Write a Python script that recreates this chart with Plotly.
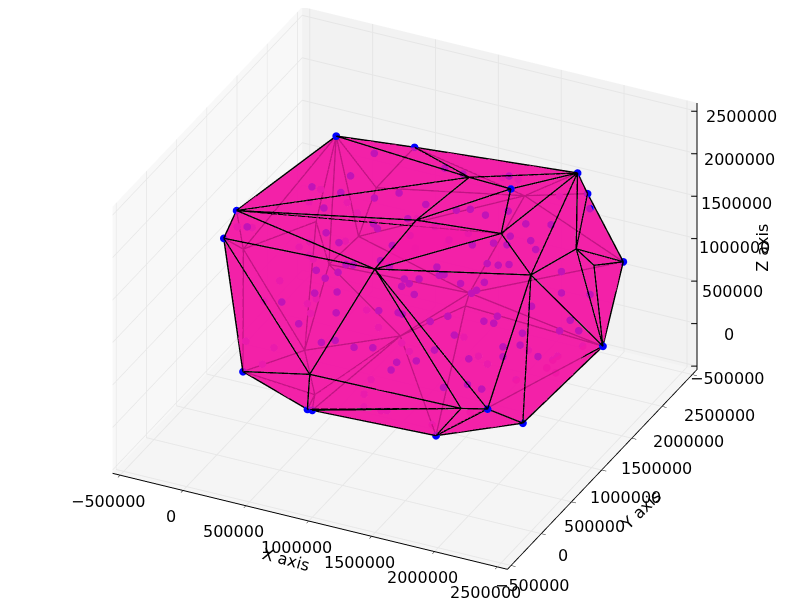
import math
import plotly.graph_objects as go

# hull vertices (x, y, z in thousands)
vertex_names = ['A','B','C','D','E','F','G','H','I','I2','J','K','L','M','N','O','P','Q','R','S','T','U','V','W','b1','b2','b3','b4','b5','b6','b7','b8','b9','b10','b11']
vertex_x = [342,908,1953,2048,2383,2405,1971,1461,587,624,90,-231,-190,1159,2130,1877,1783,1506,1324,2290,2397,765,1936,1789,52,-240,146,288,391,1398,189,411,691,1058,1053]
vertex_y = [1264,1382,1906,1874,1768,1385,963,587,277,281,245,596,722,203,766,801,1155,1044,545,1183,1254,-55,452,319,1536,938,1552,1747,1827,2187,1060,767,1600,1980,1924]
vertex_z = [2389,2372,2053,1868,1266,567,-179,-228,0,-1,289,1480,1727,1912,1770,2141,2367,2487,2291,1822,1614,724,357,411,1074,1093,592,826,1376,1375,-36,-260,-91,262,150]

front_triangles = ['A L Q','A Q B','B Q C','L Q R','L R O','L O M','L M K','K M U','K U J','J U I','U I W','I I2 W','I2 W H','U M W','M W V','W V H','H V G','V G N','V M N','M N O','M O R','R O P','R P Q','Q P C','P O C','O N C','N C S','C S D','S D E','S E T','S T F','T E F','N S F','N F G']
back_triangles = ['A b1 b2','A b1 b3','A b3 b4','A b4 b5','A b5 B','L A b2','L b2 K','K b2 J','J b2 b7','b2 b1 b7','b1 b3 b7','b3 b7 b9','b3 b4 b10','b3 b9 b10','b4 b5 b6','b4 b6 b10','b5 B b6','B C b6','C D b6','D E b6','b6 b10 E','b10 b11 F','b10 E F','b9 b10 b11','J b7 b8','b7 b8 b9','J b8 I','b8 I I2','b8 b9 I2','b9 I2 H','b9 b11 H','b11 F H','H G F']

strong_x = [677,584,341,560,802,954,479,1153,-53,546,653,886,850,1114,1016,739,789,1033,545,698,619,1150,1189,1144,1246,1066,964,1186,1316,1601,1361,1446,1552,1682,1814,1963,2124,1258,1482,1372,1528,1656,1741,1745,1876,1922,1653,1723,1788,1342,1370,1400,1518,1665,2110,2143,1628,1601,2304,1987,569,722,349,744,497,677,770,906,1031,1027,1158,1188,1238,1377,1437,1331,1204,1174,1477,1793,1716,1779,1547,1965,2180,2286,2228,1862,1964,1663,1872,2080,1526,1675,1765]
strong_y = [1198,999,866,888,942,1033,777,1061,613,674,664,817,826,883,793,602,618,710,513,556,507,712,712,681,757,944,705,1306,1337,1508,1136,1189,1219,1325,1341,1449,1756,997,1082,990,1052,1136,1181,1227,1293,1280,1039,1074,1118,853,833,851,878,966,1315,1247,913,886,1385,1077,437,491,350,429,322,324,358,388,439,544,594,602,694,668,613,534,473,443,752,915,852,883,714,971,1139,1234,1214,863,935,712,843,989,578,665,712]
strong_z = [2349,2197,2081,2074,2054,2099,1945,2014,1662,1753,1682,1815,1854,1766,1681,1502,1501,1500,1430,1429,1368,1394,1353,1329,1395,1902,1549,2274,2229,2180,1964,1967,1914,1930,1815,1779,1804,1839,1775,1726,1678,1683,1661,1729,1675,1597,1513,1493,1492,1498,1426,1431,1349,1350,1380,1191,1283,1258,1131,1103,1228,1254,1111,1064,929,771,802,747,749,1103,1090,1075,1257,1009,736,630,614,536,1044,1036,997,973,876,858,840,810,926,741,745,641,644,613,357,381,325]

faint_x = [229,394,168,465,-162,-121,150,206,419,865,217,246,80,842,1384,1571,1882,1063,318,275,85,318,10,166,645,749,988,923,149,806,799,833,949,986,1317,1316,1778,1450,1527,2000,1973,1948,2026,1759,2164,1530]
faint_y = [1237,1335,1173,1358,674,834,1048,1106,1253,1481,1072,1079,870,1553,1845,1719,1754,1585,974,922,598,887,457,596,1133,1113,1125,1134,442,869,770,699,741,763,822,1346,1451,1309,1298,1476,1451,1404,1390,1290,1548,1007]
faint_z = [1752,1588,1631,1474,1583,1474,1190,1226,1204,1113,1101,1060,901,1398,1855,1977,1867,1145,699,664,859,591,466,346,567,414,208,279,256,0,-101,-186,-221,-224,-316,330,260,179,121,249,212,145,124,23,369,-232]

tick_values = [-500000,0,500000,1000000,1500000,2000000,2500000]
tick_labels = ['\u2212500000','0','500000','1000000','1500000','2000000','2500000']
x_range = [-560000,2580000]; y_range = [-560000,2580000]; z_range = [-540000,2600000]

K = 1000
e,a,r = math.radians(28.5),math.radians(-64),2.0
E = (math.cos(e)*math.cos(a),math.cos(e)*math.sin(a),math.sin(e))
SC = 1.46

def interior(xs,ys,zs,f=0.2):
    # points are inside the hull: keep them close to its mid-plane along the line of sight
    X,Y,Z=[],[],[]
    for x,y,z in zip(xs,ys,zs):
        w=((x-1010)/3140,(y-1010)/3140,0.706*(z-1030)/3140)
        d=(1-f)*sum(w[i]*E[i] for i in range(3))
        w=[w[i]-d*E[i] for i in range(3)]
        X.append((w[0]*3140+1010)*K);Y.append((w[1]*3140+1010)*K);Z.append((w[2]/0.706*3140+1030)*K)
    return X,Y,Z

vx = [v*K for v in vertex_x]; vy = [v*K for v in vertex_y]; vz = [v*K for v in vertex_z]
idx = {n:i for i,n in enumerate(vertex_names)}
def tri(lst):
    return [[idx[p] for p in t.split()] for t in lst]
def edges(lst):
    s = []
    for a_,b_,c_ in tri(lst):
        for p,q in ((a_,b_),(b_,c_),(c_,a_)):
            ee = (min(p,q),max(p,q))
            if ee not in s: s.append(ee)
    return s
def seg(es):
    X,Y,Z = [],[],[]
    for p,q in es:
        X += [vx[p],vx[q],None]; Y += [vy[p],vy[q],None]; Z += [vz[p],vz[q],None]
    return X,Y,Z
all_tri = tri(front_triangles)+tri(back_triangles)
fe = edges(front_triangles)
be = [ee for ee in edges(back_triangles) if ee not in fe]

fig = go.Figure()
fx_,fy_,fz_ = interior(faint_x,faint_y,faint_z)
sx_,sy_,sz_ = interior(strong_x,strong_y,strong_z)
fig.add_trace(go.Scatter3d(x=fx_,y=fy_,z=fz_,mode='markers',marker=dict(size=4.5,color='rgb(200,40,200)',line=dict(width=0)),hoverinfo='skip'))
fig.add_trace(go.Scatter3d(x=sx_,y=sy_,z=sz_,mode='markers',marker=dict(size=4.5,color='rgb(0,0,255)',line=dict(width=0)),hoverinfo='skip'))
hv = list(range(13))+[idx['P'],idx['V']]
fig.add_trace(go.Scatter3d(x=[vx[i] for i in hv],y=[vy[i] for i in hv],z=[vz[i] for i in hv],mode='markers',marker=dict(size=4.5,color='rgb(0,0,255)',line=dict(width=0)),hoverinfo='skip'))
bx,by,bz = seg(be)
fig.add_trace(go.Scatter3d(x=bx,y=by,z=bz,mode='lines',line=dict(color='black',width=3),hoverinfo='skip'))
fig.add_trace(go.Mesh3d(x=vx,y=vy,z=vz,i=[t[0] for t in all_tri],j=[t[1] for t in all_tri],k=[t[2] for t in all_tri],color='rgb(243,24,165)',opacity=0.8,flatshading=True,
    lighting=dict(ambient=1,diffuse=0,specular=0,roughness=1,fresnel=0),hoverinfo='skip'))
fx,fy,fz = seg(fe)
fig.add_trace(go.Scatter3d(x=fx,y=fy,z=fz,mode='lines',line=dict(color='black',width=3),hoverinfo='skip'))

# z axis drawn on the back right edge
zx,zy = x_range[1],y_range[1]
lx,ly,lz = [zx,zx,None],[zy,zy,None],[z_range[0],z_range[1],None]
for t in tick_values:
    lx += [zx-38000,zx+38000,None]; ly += [zy-18000,zy+18000,None]; lz += [t,t,None]
fig.add_trace(go.Scatter3d(x=lx,y=ly,z=lz,mode='lines',line=dict(color='black',width=2),hoverinfo='skip'))

FONT = dict(family='DejaVu Sans',size=16,color='black')
def axis(rng,bg):
    return dict(title=dict(text=''),range=rng,tickmode='array',tickvals=tick_values,ticktext=['']*7,
        showticklabels=False,showgrid=True,gridcolor='rgb(230,230,230)',gridwidth=2,showbackground=True,backgroundcolor=bg,
        showline=True,linecolor='black',linewidth=2,ticks='outside',ticklen=5,tickcolor='black',zeroline=False,showspikes=False)
zax = axis(z_range,'rgb(245,245,245)')
zax.update(showline=False,ticks='')
y_shift_x = [21,22,23,24,25,26,27]
y_shift_y = [-20,-22,-25,-27,-30,-35,-41]
z_shift_x = [30,32,35,37,39,42,44]
z_shift_y = [-12,-11,-10,-9,-7,-6,-5]
annots = []
for n,(t,l) in enumerate(zip(tick_values,tick_labels)):
    annots.append(dict(x=t,y=y_range[0],z=z_range[0],text=l,showarrow=False,xanchor='center',yanchor='middle',xshift=-12,yshift=-26,font=FONT))
    annots.append(dict(x=x_range[1],y=t,z=z_range[0],text=l,showarrow=False,xanchor='center',yanchor='middle',xshift=y_shift_x[n],yshift=y_shift_y[n],font=FONT))
    annots.append(dict(x=zx,y=zy,z=t,text=l,showarrow=False,xanchor='center',yanchor='middle',xshift=z_shift_x[n],yshift=z_shift_y[n],font=FONT))
annots.append(dict(x=1000000,y=y_range[0],z=z_range[0],text='X axis',showarrow=False,textangle=15,xshift=-23,yshift=-38,font=FONT))
annots.append(dict(x=x_range[1],y=1000000,z=z_range[0],text='Y axis',showarrow=False,textangle=-44,xshift=39,yshift=-40,font=FONT))
annots.append(dict(x=zx,y=zy,z=1000000,text='Z axis',showarrow=False,textangle=-90,xshift=66,yshift=-9,font=FONT))
fig.update_layout(width=800,height=600,margin=dict(l=0,r=0,t=0,b=0),paper_bgcolor='white',showlegend=False,
    scene=dict(domain=dict(x=[0,1],y=[0,1]),aspectmode='manual',aspectratio=dict(x=SC,y=SC,z=0.706*SC),
        xaxis=axis(x_range,'rgb(248,248,248)'),yaxis=axis(y_range,'rgb(242,242,242)'),zaxis=zax,annotations=annots,
        camera=dict(projection=dict(type='orthographic'),up=dict(x=0,y=0,z=1),center=dict(x=0.0096,y=0.0045,z=-0.077),
            eye=dict(x=r*E[0],y=r*E[1],z=r*E[2]))))
fig.write_html("out.html")
